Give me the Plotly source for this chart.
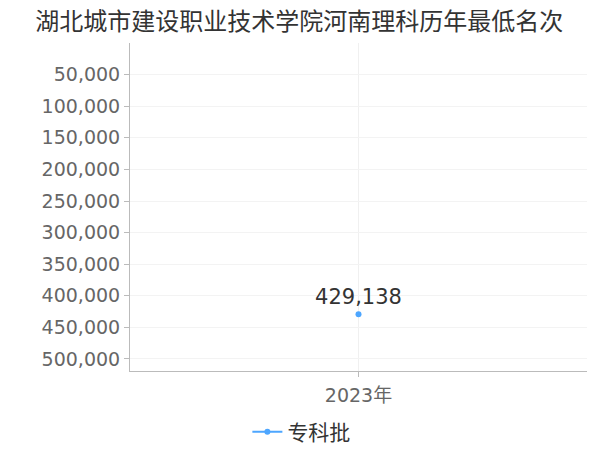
import plotly.graph_objs as go

years = ["2023年"]
ranks = [429138]
series_name = "专科批"
y_ticks = [50000, 100000, 150000, 200000, 250000, 300000, 350000, 400000, 450000, 500000]

fig = go.Figure()
fig.add_trace(
    go.Scatter(
        name=series_name,
        x=years,
        y=ranks,
        mode="lines+markers+text",
        text=[f"{v:,}" for v in ranks],
        textposition="top center",
        textfont=dict(size=21, color="#333333"),
        marker=dict(size=6, color="#4da6ff"),
        line=dict(color="#4da6ff", width=2),
    )
)

# page body has an 8px margin, so the figure is 8px smaller and shifted
fig.update_layout(
    width=592,
    height=442,
    margin=dict(l=122, r=13, t=35, b=79, autoexpand=False),
    paper_bgcolor="white",
    plot_bgcolor="white",
    font=dict(family="DejaVu Sans, Noto Sans CJK SC", color="#666666"),
    title=dict(
        text="湖北城市建设职业技术学院河南理科历年最低名次",
        x=0.492,
        xanchor="center",
        y=0.97,
        yanchor="middle",
        font=dict(size=24, color="#333333"),
    ),
    showlegend=True,
    legend=dict(
        orientation="h",
        x=0.375,
        xanchor="center",
        y=-0.186,
        yanchor="middle",
        itemwidth=30,
        font=dict(size=21, color="#333333"),
    ),
    xaxis=dict(
        showline=True,
        linecolor="#bbbbbb",
        ticks="outside",
        tickcolor="#bbbbbb",
        ticklen=5,
        ticklabelstandoff=2,
        showgrid=True,
        gridcolor="#f0f0f0",
        tickfont=dict(size=19, color="#666666"),
    ),
    yaxis=dict(
        range=[519000, 0],
        tickvals=y_ticks,
        tickformat=",",
        showline=True,
        linecolor="#bbbbbb",
        ticks="outside",
        tickcolor="#bbbbbb",
        ticklen=5,
        showgrid=True,
        gridcolor="#f3f3f3",
        zeroline=False,
        tickfont=dict(size=19, color="#666666"),
    ),
)

fig.write_html("out.html")
